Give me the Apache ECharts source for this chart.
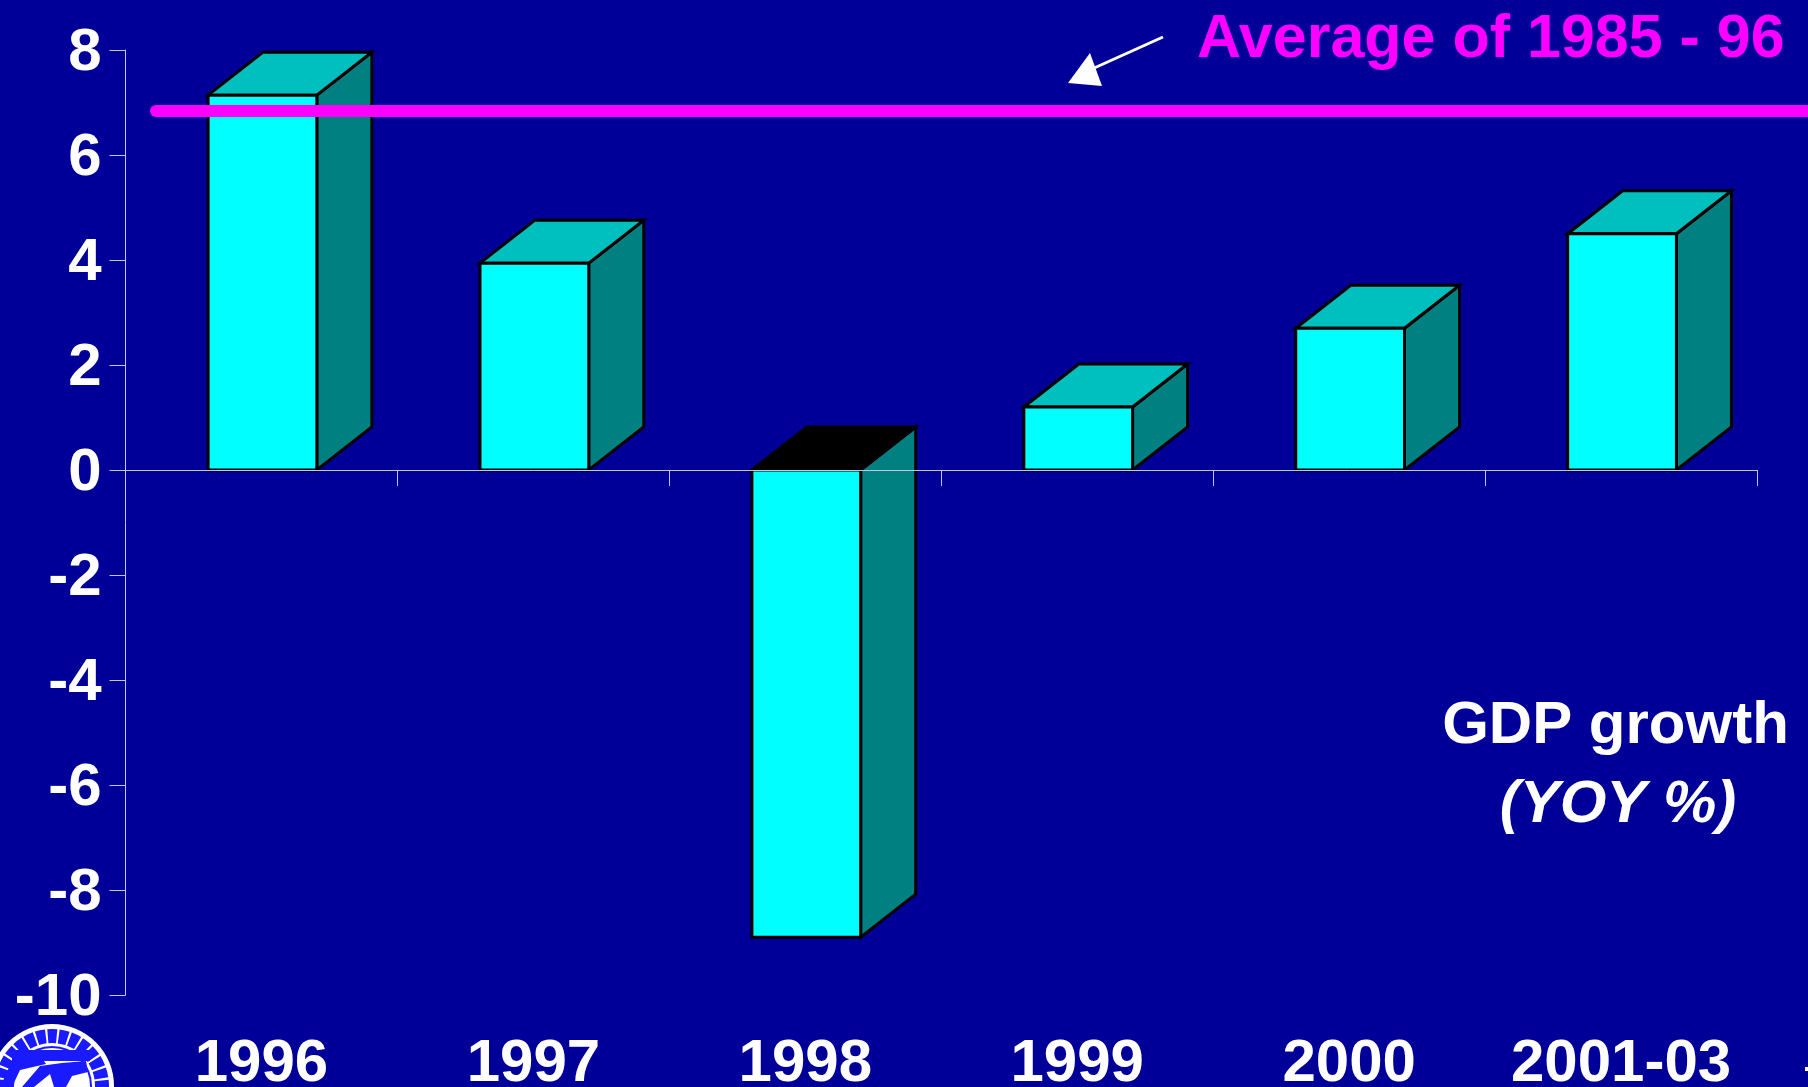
<!DOCTYPE html>
<html>
<head>
<meta charset="utf-8">
<script src="https://cdn.jsdelivr.net/npm/echarts@6/dist/echarts.min.js"></script>
<style>html,body{margin:0;padding:0;background:#000099;overflow:hidden}#c{width:1808px;height:1087px}</style>
</head>
<body>
<div id="c"></div>
<script>
const categories = ['1996', '1997', '1998', '1999', '2000', '2001-03'];
const growth = [7.14, 3.94, -8.9, 1.2, 2.7, 4.5];
const averageValue = 6.84;
const averageSpan = [0.114, 6.19];
const yTicks = { min: -10, max: 8, interval: 2 };

const FONT = '"Liberation Sans", Arial, sans-serif';
const DEPTH_X = 55, DEPTH_Y = 43;
const AXIS_COLOR = '#c4c4e6';

function renderBar(params, api) {
  const i = api.value(0), v = api.value(1);
  const center = api.coord([i, 0])[0] + 1;
  const w = api.size([1, 0])[0] * 0.4;
  const y0 = api.coord([i, 0])[1], yv = api.coord([i, v])[1];
  const top = Math.min(y0, yv), bot = Math.max(y0, yv);
  const l = center - w / 2, r = center + w / 2;
  const stroke = { stroke: '#000', lineWidth: 3, lineJoin: 'miter' };
  return {
    type: 'group',
    children: [
      { type: 'polygon', shape: { points: [[r, top], [r + DEPTH_X, top - DEPTH_Y], [r + DEPTH_X, bot - DEPTH_Y], [r, bot]] },
        style: Object.assign({ fill: '#008080' }, stroke) },
      { type: 'polygon', shape: { points: [[l, top], [l + DEPTH_X, top - DEPTH_Y], [r + DEPTH_X, top - DEPTH_Y], [r, top]] },
        style: Object.assign({ fill: v < 0 ? '#000000' : '#00bfbf' }, stroke) },
      { type: 'rect', shape: { x: l, y: top, width: w, height: bot - top },
        style: Object.assign({ fill: '#00ffff' }, stroke) }
    ]
  };
}

const chart = echarts.init(document.getElementById('c'), null, { renderer: 'canvas' });
chart.setOption({
  animation: false,
  backgroundColor: '#000099',
  grid: [
    { left: 125.5, right: 51, top: 50, height: 945, outerBoundsMode: 'none' },
    { left: 125, right: 0, top: 50, height: 945, outerBoundsMode: 'none' }
  ],
  xAxis: [
    { type: 'category', data: categories, gridIndex: 0, z: 5,
      axisLine: { show: true, onZero: true, lineStyle: { color: AXIS_COLOR, width: 1 } },
      axisTick: { show: true, length: 16, lineStyle: { color: AXIS_COLOR, width: 1 } },
      axisLabel: { interval: 0, margin: 39, color: '#fff', fontFamily: FONT, fontWeight: 'bold', fontSize: 60 },
      splitLine: { show: false } },
    { type: 'value', gridIndex: 1, min: 0, max: averageSpan[1], show: false }
  ],
  yAxis: [
    { type: 'value', gridIndex: 0, min: yTicks.min, max: yTicks.max, interval: yTicks.interval,
      axisLine: { show: true, onZero: false, lineStyle: { color: AXIS_COLOR, width: 1 } },
      axisTick: { show: true, length: 16, lineStyle: { color: AXIS_COLOR, width: 1 } },
      axisLabel: { margin: 24, verticalAlign: 'top', lineHeight: 6, color: '#fff', fontFamily: FONT, fontWeight: 'bold', fontSize: 60 },
      splitLine: { show: false } },
    { type: 'value', gridIndex: 1, min: yTicks.min, max: yTicks.max, interval: yTicks.interval, show: false }
  ],
  series: [
    { type: 'custom', xAxisIndex: 0, yAxisIndex: 0, clip: false, z: 2, renderItem: renderBar,
      encode: { x: 0, y: 1 }, data: categories.map((c, i) => [i, growth[i]]) },
    { type: 'line', xAxisIndex: 1, yAxisIndex: 1, clip: false, z: 10, showSymbol: false, silent: true,
      lineStyle: { color: '#ff00ff', width: 12, cap: 'round' },
      data: averageSpan.map(x => [x, averageValue]) }
  ],
  graphic: [
    { type: 'text', x: 1197, y: 40, z: 20, style: { text: 'Average of 1985 - 96', fill: '#ff00ff', font: 'bold 61px ' + FONT, textVerticalAlign: 'middle' } },
    { type: 'line', z: 20, shape: { x1: 1163, y1: 37, x2: 1092, y2: 69 }, style: { stroke: '#fff', lineWidth: 3 } },
    { type: 'polygon', z: 20, shape: { points: [[1090, 53], [1068, 83], [1102, 86]] }, style: { fill: '#fff' } },
    { type: 'text', x: 1615.5, y: 726, z: 20, style: { text: 'GDP growth', fill: '#fff', font: 'bold 60px ' + FONT, textAlign: 'center', textVerticalAlign: 'middle' } },
    { type: 'text', x: 1618, y: 805, z: 20, style: { text: '(YOY %)', fill: '#fff', font: 'italic bold 60px ' + FONT, textAlign: 'center', textVerticalAlign: 'middle' } },
    // seal, bottom-left
    { type: 'circle', z: 15, shape: { cx: 52, cy: 1086, r: 62 }, style: { fill: '#fff' } },
    { type: 'circle', z: 16, shape: { cx: 52, cy: 1086, r: 50 }, style: { fill: 'none', stroke: '#1a1aff', lineWidth: 14, lineDash: [9, 2] } },
    { type: 'circle', z: 16, shape: { cx: 52, cy: 1086, r: 39 }, style: { fill: 'none', stroke: '#1a1aff', lineWidth: 2 } },
    { type: 'rect', z: 16, shape: { x: 12, y: 1050, width: 78, height: 11 }, style: { fill: '#1a1aff' } },
    { type: 'polygon', z: 16, shape: { points: [[12, 1061], [44, 1061], [46, 1064], [20, 1070], [12, 1087], [0, 1087]] }, style: { fill: '#1a1aff' } },
    { type: 'polygon', z: 16, shape: { points: [[40, 1066], [62, 1063], [86, 1061], [88, 1072], [72, 1076], [66, 1087], [54, 1087], [50, 1074], [34, 1087], [22, 1087]] }, style: { fill: '#1a1aff' } },
    { type: 'rect', z: 16, shape: { x: 1805, y: 1067, width: 3, height: 4 }, style: { fill: '#fff' } }
  ]
});
</script>
</body>
</html>
